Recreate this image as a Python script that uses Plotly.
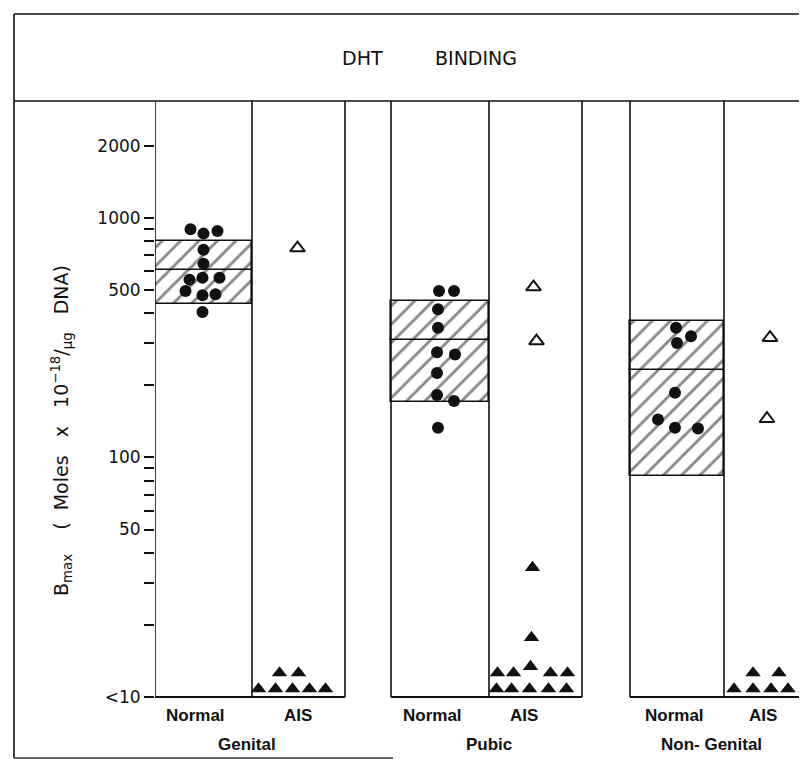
import plotly.graph_objects as go

# ---------------- data ----------------
panels = ["Genital", "Pubic", "Non- Genital"]
groups = ["Normal", "AIS"]

genital_normal = [895, 859, 881, 736, 643, 552, 562, 562, 495, 475, 480, 404]
pubic_normal = [495, 495, 415, 348, 275, 269, 225, 182, 172, 133]
nongenital_normal = [348, 320, 300, 186, 144, 133, 132]

genital_ais_open = [748]
pubic_ais_open = [514, 306]
nongenital_ais_open = [316, 145]

genital_ais_filled = [10.8, 10.8, 10.8, 10.8, 10.8, 12.6, 12.6]
pubic_ais_filled = [34.7, 17.7, 13.4, 12.6, 12.6, 12.6, 12.6, 10.8, 10.8, 10.8, 10.8, 10.8]
nongenital_ais_filled = [12.6, 12.6, 10.8, 10.8, 10.8, 10.8, 10.8]

# normal range boxes: low, mean, high
range_low = [438, 170, 83.6]
range_mean = [607, 308, 231]
range_high = [798, 448, 371]

tick_vals = [10, 20, 30, 40, 50, 60, 70, 80, 90, 100, 200, 300, 400, 500,
             600, 700, 800, 900, 1000, 2000]
tick_text = ["<10", "", "", "", "50", "", "", "", "", "100", "", "", "", "500",
             "", "", "", "", "1000", "2000"]

# ---------------- layout helpers (positions, not data) ----------------
col_edges = [[0, 97, 190], [236, 334, 427], [475, 569, 663]]
normal_c = [(e[0] + e[1]) / 2 for e in col_edges]
ais_c = [(e[1] + e[2]) / 2 for e in col_edges]
box_w = [e[1] - e[0] for e in col_edges]

normal_dx = [
    [-13, 0, 14, 0, 0, -14, -1, 16, -18, -1, 12, -1],
    [-1, 14, -2, -2, -3, 15, -3, -3, 14, -2],
    [-1, 14, 0, -2, -19, -2, 21],
]
open_dx = [[-1], [-2, 1], [-1, -4]]
filled_dx = [
    [-40, -23, -6, 11, 27, -19, 0],
    [-3, -4, -5, -38, -22, 15, 32, -39, -24, -6, 13, 31],
    [-18, 8, -37, -18, 0, 17, 35],
]

normals = [genital_normal, pubic_normal, nongenital_normal]
opens = [genital_ais_open, pubic_ais_open, nongenital_ais_open]
filleds = [genital_ais_filled, pubic_ais_filled, nongenital_ais_filled]

INK = "#111111"
FONT = "DejaVu Sans"
LFONT = "Liberation Sans"

fig = go.Figure()

# hatched range boxes (two stacked segments -> middle line at mean)
bx, bbase, blen, bw = [], [], [], []
for i in range(3):
    bx += [normal_c[i], normal_c[i]]
    bbase += [range_low[i], range_mean[i]]
    blen += [range_mean[i] - range_low[i], range_high[i] - range_mean[i]]
    bw += [box_w[i], box_w[i]]
fig.add_trace(go.Bar(
    x=bx, y=blen, base=bbase, width=bw,
    marker=dict(color="white",
                line=dict(color=INK, width=1.6),
                pattern=dict(shape="/", size=13, solidity=0.22,
                             fgcolor=INK, bgcolor="white")),
    showlegend=False, hoverinfo="skip"))

for i in range(3):
    fig.add_trace(go.Scatter(
        x=[normal_c[i] + d for d in normal_dx[i]], y=normals[i],
        mode="markers",
        marker=dict(symbol="circle", size=12, color=INK),
        showlegend=False))
    fig.add_trace(go.Scatter(
        x=[ais_c[i] + d for d in open_dx[i]], y=opens[i],
        mode="markers",
        marker=dict(symbol="triangle-up-open", size=13, color=INK,
                    line=dict(width=2, color=INK)),
        showlegend=False))
    fig.add_trace(go.Scatter(
        x=[ais_c[i] + d for d in filled_dx[i]], y=filleds[i],
        mode="markers",
        marker=dict(symbol="triangle-up", size=13.5, color=INK),
        showlegend=False))

# ---------------- frame / column lines ----------------
shapes = []
for e in col_edges:
    for xe in e:
        shapes.append(dict(type="line", xref="x", yref="paper", x0=xe, x1=xe,
                           y0=0, y1=1, line=dict(color=INK, width=1.6)))
    shapes.append(dict(type="line", xref="x", yref="paper", x0=e[0], x1=e[2],
                       y0=0, y1=0, line=dict(color=INK, width=1.8)))

W, H = 807, 759
L, T, B = 147, 93, 70
PW, PH = W - L, H - T - B


def px_x(p):
    return (p - L) / PW


def px_y(p):
    return (H - B - p) / PH


frame_left = px_x(6)
frame_top = px_y(6)
frame_bottom = px_y(750)
shapes += [
    dict(type="line", xref="paper", yref="paper", x0=frame_left, x1=1.0,
         y0=1, y1=1, line=dict(color=INK, width=1.6)),
    dict(type="line", xref="paper", yref="paper", x0=frame_left, x1=1.0,
         y0=frame_top, y1=frame_top, line=dict(color=INK, width=1.6)),
    dict(type="line", xref="paper", yref="paper", x0=frame_left, x1=frame_left,
         y0=frame_bottom, y1=frame_top, line=dict(color=INK, width=1.6)),
    dict(type="line", xref="paper", yref="paper", x0=frame_left, x1=px_x(385),
         y0=frame_bottom, y1=frame_bottom, line=dict(color="#333", width=1.6)),
]

# ---------------- text ----------------
ann = []
label_font = dict(family=LFONT, size=17, color=INK)
normal_lbl_x = [187, 424, 666]
ais_lbl_x = [290, 516, 755]
panel_lbl_x = [239, 481, 703]


def label(text, xp, yp, font, angle=0):
    return dict(text=text, x=px_x(xp), y=px_y(yp), xref="paper", yref="paper",
                xanchor="center", yanchor="middle", showarrow=False,
                textangle=angle, font=font)


for i in range(3):
    ann.append(label("<b>" + groups[0] + "</b>", normal_lbl_x[i], 707, label_font))
    ann.append(label("<b>" + groups[1] + "</b>", ais_lbl_x[i], 707, label_font))
    ann.append(label("<b>" + panels[i] + "</b>", panel_lbl_x[i], 736, label_font))

title_font = dict(family=FONT, size=19, color=INK)
ann.append(label("DHT", 354, 50, title_font))
ann.append(label("BINDING", 468, 50, title_font))

ann.append(label(
    "B<sub>max</sub>    (  Moles   x   10<sup>−18</sup>/<sub>μg</sub>   DNA)",
    54, 423, dict(family=FONT, size=19, color=INK), angle=-90))

fig.update_layout(
    width=W, height=H,
    margin=dict(l=L, r=0, t=T, b=B),
    paper_bgcolor="white", plot_bgcolor="white",
    shapes=shapes, annotations=ann,
    barmode="overlay", bargap=0,
    xaxis=dict(range=[0, PW], showgrid=False, zeroline=False,
               showticklabels=False, ticks="", showline=False, fixedrange=True),
    yaxis=dict(type="log", range=[1, 3.4875], showgrid=False, zeroline=False,
               showline=False, tickmode="array", tickvals=tick_vals,
               ticktext=tick_text, ticks="outside", ticklen=10, tickwidth=1.5,
               tickcolor=INK, tickfont=dict(family=FONT, size=17, color=INK)),
)

fig.write_html("out.html")
